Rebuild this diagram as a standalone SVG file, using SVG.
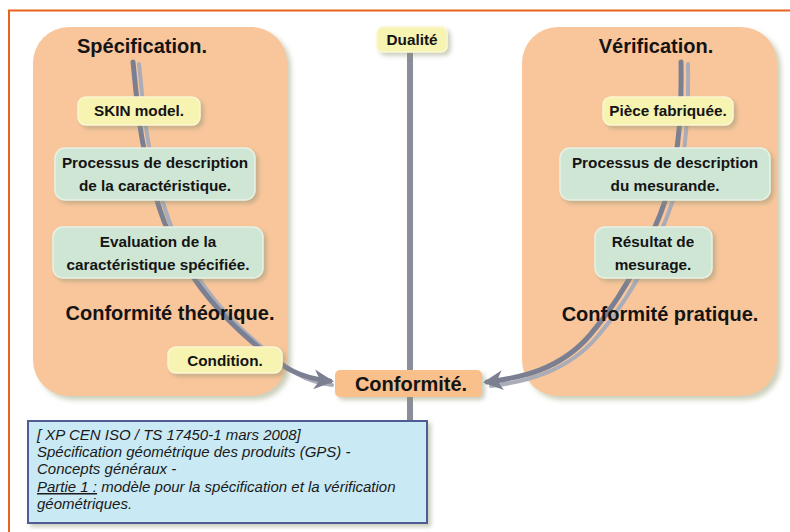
<svg xmlns="http://www.w3.org/2000/svg" width="790" height="532" viewBox="0 0 790 532">
<style>
.t{font-family:"Liberation Sans",Arial,sans-serif;font-weight:bold;fill:#141414;text-anchor:middle}
.big{font-size:20px}
.sm{font-size:15.3px}
.note{font-family:"Liberation Sans",Arial,sans-serif;font-style:italic;font-size:15px;fill:#1a1a1a}
.panel{fill:#f9c69b}
.yel{fill:#f7f3b0;stroke:#fbf8d2;stroke-width:1.5}
.grn{fill:#cfe6d4;stroke:#e6f2e6;stroke-width:1.5}
.main{fill:none;stroke:#7b7f92;stroke-width:5;stroke-linecap:round}
.shad{fill:none;stroke:#aaadb8;stroke-width:4;stroke-linecap:round}
</style>
<defs>
<filter id="ps" x="-10%" y="-10%" width="125%" height="125%">
<feDropShadow dx="4" dy="4" stdDeviation="2.5" flood-color="#a9b18f" flood-opacity="0.6"/>
</filter>
<filter id="bs" x="-20%" y="-30%" width="150%" height="170%">
<feDropShadow dx="3" dy="3" stdDeviation="2" flood-color="#8a8f70" flood-opacity="0.45"/>
</filter>
<marker id="ah" viewBox="0 0 10 10" refX="8" refY="5" markerWidth="4" markerHeight="4" orient="auto" markerUnits="strokeWidth">
<path d="M0,0 L10,5 L0,10 L3,5 Z" fill="#7b7f92"/>
</marker>
</defs>
<rect width="790" height="532" fill="#ffffff"/>
<path d="M9,532 V10.5 H790" fill="none" stroke="#e8621e" stroke-width="2"/>

<g id="panel-specification">
<rect class="panel" x="33" y="27" width="254" height="369" rx="36" filter="url(#ps)"/>
</g>
<g id="panel-verification">
<rect class="panel" x="522" y="27" width="255" height="369" rx="36" filter="url(#ps)"/>
</g>

<g id="connectors">
<line x1="410" y1="50" x2="410" y2="424" stroke="#8b8e99" stroke-width="6"/>
<path class="shad" d="M139,64 C144,112 146,152 166,212 S221,312 256,342 S304,382 332,385"/>
<path class="main" d="M133,62 C138,110 140,150 160,210 S215,310 250,340 S300,378 330,381" marker-end="url(#ah)"/>
<path class="shad" d="M688,64 C689,122 685,172 667,217 S627,302 597,337 S525,382 491,386"/>
<path class="main" d="M681,62 C682,120 678,170 660,215 S620,300 590,335 S520,378 487,382" marker-end="url(#ah)"/>
</g>

<g id="title-specification"><text class="t big" x="142" y="53">Spécification.</text></g>
<g id="title-verification"><text class="t big" x="656" y="53">Vérification.</text></g>

<g id="dualite">
<rect class="yel" x="377" y="27" width="70" height="25" rx="6" filter="url(#bs)"/>
<text class="t sm" x="412" y="45">Dualité</text>
</g>

<g id="skin-model">
<rect class="yel" x="78" y="97" width="122" height="28" rx="8" filter="url(#bs)"/>
<text class="t sm" x="139" y="116">SKIN model.</text>
</g>
<g id="processus-caracteristique">
<rect class="grn" x="55" y="148" width="200" height="52" rx="10" filter="url(#bs)"/>
<text class="t sm" x="155" y="168">Processus de description</text>
<text class="t sm" x="155" y="191">de la caractéristique.</text>
</g>
<g id="evaluation">
<rect class="grn" x="53" y="227" width="210" height="51" rx="10" filter="url(#bs)"/>
<text class="t sm" x="158" y="247">Evaluation de la</text>
<text class="t sm" x="158" y="270">caractéristique spécifiée.</text>
</g>
<g id="conformite-theorique"><text class="t big" x="170" y="320">Conformité théorique.</text></g>
<g id="condition">
<rect class="yel" x="168" y="347" width="114" height="26" rx="8" filter="url(#bs)"/>
<text class="t sm" x="225" y="366">Condition.</text>
</g>

<g id="piece-fabriquee">
<rect class="yel" x="603" y="97" width="130" height="28" rx="8" filter="url(#bs)"/>
<text class="t sm" x="668" y="116">Pièce fabriquée.</text>
</g>
<g id="processus-mesurande">
<rect class="grn" x="560" y="148" width="210" height="52" rx="10" filter="url(#bs)"/>
<text class="t sm" x="665" y="168">Processus de description</text>
<text class="t sm" x="665" y="191">du mesurande.</text>
</g>
<g id="resultat">
<rect class="grn" x="595" y="227" width="117" height="51" rx="10" filter="url(#bs)"/>
<text class="t sm" x="653" y="247">Résultat de</text>
<text class="t sm" x="653" y="270">mesurage.</text>
</g>
<g id="conformite-pratique"><text class="t big" x="660" y="321">Conformité pratique.</text></g>

<g id="conformite">
<rect x="335" y="370" width="147" height="27" rx="5" fill="#f9c08c" filter="url(#bs)"/>
<text class="t big" x="411" y="391">Conformité.</text>
</g>

<g id="reference-note">
<rect x="28" y="421" width="399" height="102" fill="#c9e9f4" stroke="#4f5c94" stroke-width="2" filter="url(#bs)"/>
<text class="note" x="37" y="440">[ XP CEN ISO / TS 17450-1 mars 2008]</text>
<text class="note" x="37" y="457">Spécification géométrique des produits (GPS) -</text>
<text class="note" x="37" y="474">Concepts généraux -</text>
<text class="note" x="37" y="492"><tspan text-decoration="underline">Partie 1 :</tspan> modèle pour la spécification et la vérification</text>
<text class="note" x="37" y="509">géométriques.</text>
</g>
</svg>
